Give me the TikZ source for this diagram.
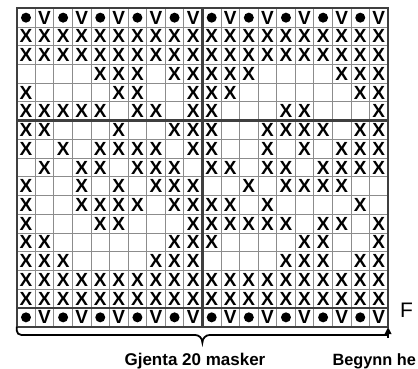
\documentclass[tikz,border=0pt]{standalone}
\usepackage{fontspec}
\setmainfont{Liberation Sans}
\usepackage{tikz}
\usetikzlibrary{arrows.meta}
\definecolor{gridgray}{HTML}{8C8C8C}
\definecolor{ruledark}{HTML}{3F3F3F}

\begin{document}
\begin{tikzpicture}[x=18.57pt,y=18.73pt,
    stitch/.style={font=\bfseries\fontsize{19}{19}\selectfont,inner sep=0pt},
    lbl/.style={font=\bfseries\fontsize{17}{17}\selectfont,inner sep=0pt}]
  \useasboundingbox (-0.899,-2.205) rectangle (21.610,17.443);
  \draw[step=1,gridgray,line width=0.9pt] (0,0) grid (20,17);
  % every tenth line
  \draw[ruledark,line width=2.6pt] (10,0) -- (10,17);
  \draw[ruledark,line width=2.6pt] (0,1) -- (20,1);
  \draw[ruledark,line width=2.6pt] (0,11) -- (20,11);
  \draw[ruledark,line width=2pt] (0,0) rectangle (20,17);
  % first and last row: dot / V
  \foreach \r in {1,17} {
    \foreach \c in {1,3,...,19}
      \fill (\c-0.5,17.5-\r) circle (5pt);
    \foreach \c in {2,4,...,20}
      \node[stitch] (v-\r-\c) at (\c-0.5,17.5-\r) {V};
  }
  % X stitches, row by row from the top
  \foreach \r/\cs in {2/{1,...,20},
      3/{1,...,20},
      4/{5,6,7,9,10,11,12,13,18,19,20},
      5/{1,6,7,10,11,12,19,20},
      6/{1,2,3,4,5,7,8,10,11,15,16,20},
      7/{1,2,6,9,10,11,14,15,16,17,19,20},
      8/{1,3,5,6,7,8,10,11,14,16,18,19,20},
      9/{2,4,5,7,8,9,11,12,14,15,17,18,19,20},
      10/{1,4,6,8,9,10,13,15,16,17,18},
      11/{1,4,5,6,7,9,10,11,12,14,19},
      12/{1,5,6,10,11,12,13,14,15,17,18,20},
      13/{1,2,9,10,11,16,17,20},
      14/{1,2,3,8,9,10,15,16,17,19,20},
      15/{1,...,20},
      16/{1,...,20}}
    \foreach \c in \cs
      \node[stitch] (x-\r-\c) at (\c-0.5,17.5-\r) {X};
  % repeat brace and start arrow
  \draw[line width=1.8pt] (0,0) -- (0,-0.2) to[out=-90,in=180] (0.25,-0.44)
    -- (9.6,-0.44) to[out=0,in=90] (10,-0.84) to[out=90,in=180] (10.4,-0.44)
    -- (20,-0.44);
  \draw[line width=1.8pt,-{Triangle[length=7pt,width=6.5pt]}] (20,-0.6) -- (20,-0.02);
  \node[lbl,anchor=base] (gjenta) at (9.6,-2.045) {Gjenta 20 masker};
  \node[lbl,font=\bfseries\fontsize{16.3}{16.3}\selectfont,anchor=base west] (begynn) at (17.0,-2.045) {Begynn he};
  \node[font=\fontsize{21}{21}\selectfont,inner sep=0pt,anchor=base west] (forside) at (20.64,0.518) {F};
\end{tikzpicture}
\end{document}
